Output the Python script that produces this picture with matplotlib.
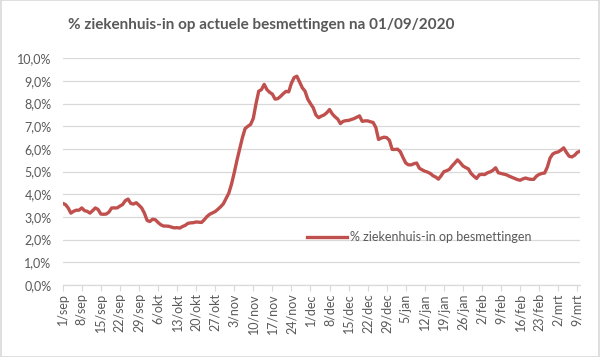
import matplotlib.pyplot as plt
from matplotlib.patches import Rectangle
from matplotlib.ticker import FuncFormatter

# --------------------------------------------------
# data: daily share (%) from 1 Sep 2020 onwards
# --------------------------------------------------
pct_hospital = [
    3.60, 3.55, 3.40, 3.17, 3.25, 3.30, 3.30, 3.40, 3.28, 3.25,
    3.17, 3.28, 3.40, 3.33, 3.13, 3.12, 3.13, 3.22, 3.40, 3.40,
    3.40, 3.48, 3.55, 3.72, 3.79, 3.60, 3.57, 3.63, 3.52, 3.40,
    3.17, 2.85, 2.80, 2.90, 2.88, 2.76, 2.66, 2.60, 2.60, 2.59,
    2.55, 2.52, 2.53, 2.51, 2.58, 2.63, 2.72, 2.74, 2.75, 2.78,
    2.77, 2.76, 2.88, 3.02, 3.12, 3.18, 3.24, 3.34, 3.45, 3.58,
    3.82, 4.05, 4.45, 4.95, 5.50, 6.00, 6.50, 6.90, 7.00, 7.08,
    7.35, 8.00, 8.55, 8.62, 8.85, 8.62, 8.50, 8.42, 8.20, 8.22,
    8.32, 8.44, 8.54, 8.52, 8.90, 9.15, 9.21, 8.95, 8.70, 8.55,
    8.20, 8.00, 7.82, 7.50, 7.38, 7.45, 7.50, 7.60, 7.74, 7.55,
    7.42, 7.32, 7.12, 7.22, 7.25, 7.26, 7.30, 7.34, 7.40, 7.46,
    7.22, 7.24, 7.24, 7.20, 7.17, 6.95, 6.42, 6.48, 6.52, 6.50,
    6.38, 5.98, 5.98, 5.99, 5.88, 5.62, 5.38, 5.30, 5.30, 5.35,
    5.38, 5.15, 5.08, 5.02, 4.98, 4.92, 4.82, 4.76, 4.67, 4.82,
    5.00, 5.04, 5.10, 5.25, 5.38, 5.52, 5.40, 5.25, 5.18, 5.12,
    4.92, 4.80, 4.70, 4.86, 4.88, 4.87, 4.95, 4.99, 5.06, 5.17,
    4.95, 4.92, 4.89, 4.86, 4.80, 4.75, 4.70, 4.65, 4.62, 4.68,
    4.72, 4.68, 4.66, 4.66, 4.80, 4.88, 4.92, 4.94, 5.20, 5.60,
    5.78, 5.84, 5.87, 5.95, 6.05, 5.85, 5.68, 5.65, 5.72, 5.85,
    5.90,
]
days = list(range(len(pct_hospital)))

tick_labels = [
    "1/sep", "8/sep", "15/sep", "22/sep", "29/sep", "6/okt", "13/okt",
    "20/okt", "27/okt", "3/nov", "10/nov", "17/nov", "24/nov", "1/dec",
    "8/dec", "15/dec", "22/dec", "29/dec", "5/jan", "12/jan", "19/jan",
    "26/jan", "2/feb", "9/feb", "16/feb", "23/feb", "2/mrt", "9/mrt",
]
tick_days = [7 * i for i in range(len(tick_labels))]

# --------------------------------------------------
# styling
# --------------------------------------------------
plt.rcParams.update({
    "font.family": ["Lato", "DejaVu Sans"],
    "font.size": 9,
})
text_grey = "#595959"
grid_grey = "#D9D9D9"
line_red = "#C0504D"

fig = plt.figure(figsize=(6.0, 3.57), dpi=100)
ax = fig.add_axes([0.1045, 0.2017, 0.8622, 0.635])

ax.plot(days, pct_hospital, color=line_red, linewidth=2.4,
        label="% ziekenhuis-in op besmettingen")

ax.set_xlim(0, len(pct_hospital) - 1)
ax.set_ylim(0, 10)
ax.set_yticks(range(0, 11))
ax.yaxis.set_major_formatter(FuncFormatter(lambda v, p: f"{v:.1f}%".replace(".", ",")))
ax.set_xticks(tick_days)
ax.set_xticklabels(tick_labels, rotation=90)

ax.grid(True, axis="y", color=grid_grey, linewidth=0.9)
ax.set_axisbelow(True)
for side in ["top", "right", "left"]:
    ax.spines[side].set_visible(False)
ax.spines["bottom"].set_color(grid_grey)
ax.spines["bottom"].set_linewidth(0.9)
ax.tick_params(axis="y", length=0, colors=text_grey, labelsize=9, pad=8)
ax.tick_params(axis="x", length=4, color=grid_grey, colors=text_grey,
               labelsize=9, pad=2)
ax.tick_params(axis="x", color=grid_grey)

fig.text(0.436, 0.93, "% ziekenhuis-in op actuele besmettingen na 01/09/2020",
         ha="center", va="center", fontsize=11, fontweight="bold", color=text_grey)

leg = ax.legend(loc="center left", bbox_to_anchor=(0.45, 0.21), frameon=False,
                handlelength=3.2, handletextpad=0.3, fontsize=9)
for t in leg.get_texts():
    t.set_color(text_grey)

fig.patches.append(Rectangle((0.001, 0.001), 0.998, 0.998, transform=fig.transFigure,
                             fill=False, edgecolor=grid_grey, linewidth=1.2))

fig.savefig("out.png", dpi=100)
